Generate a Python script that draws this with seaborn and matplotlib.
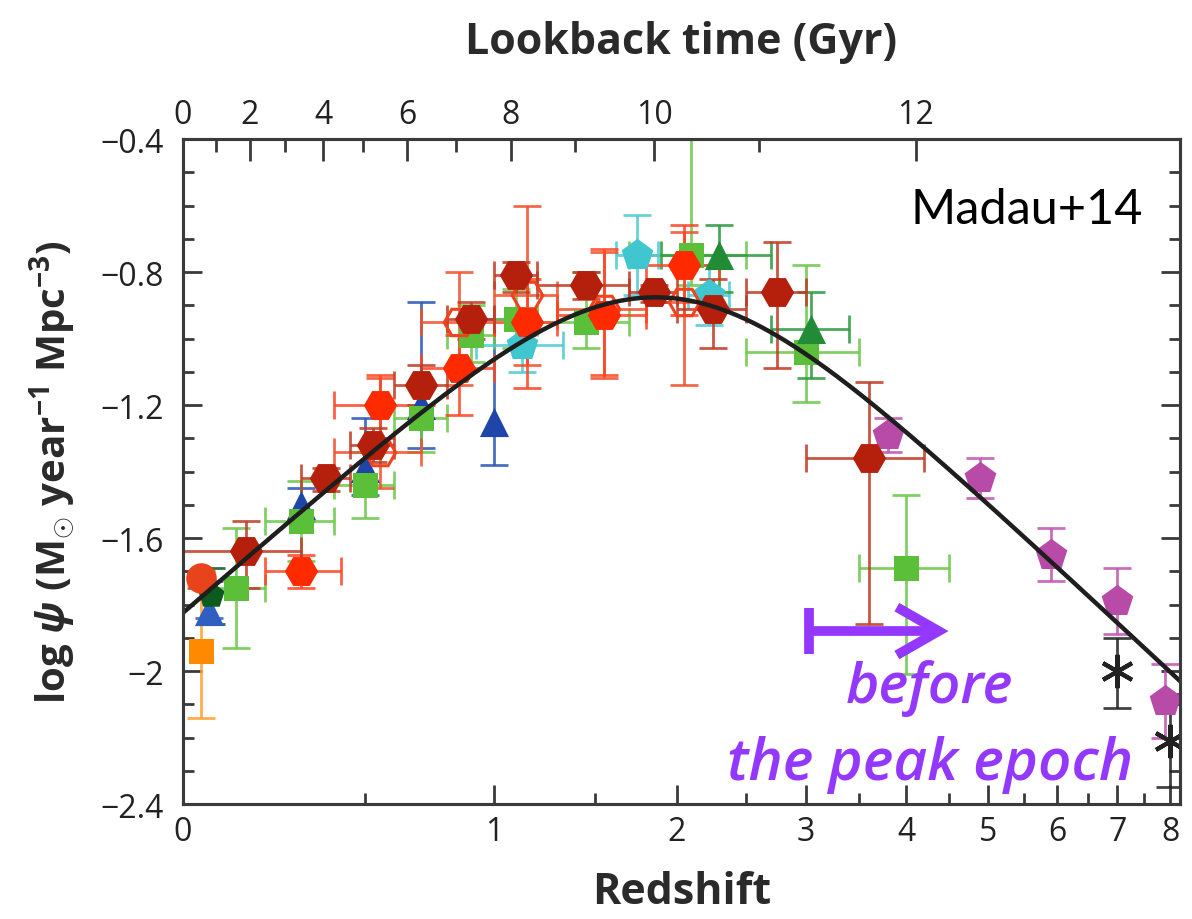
import numpy as np
import matplotlib
matplotlib.use("Agg")
import matplotlib.pyplot as plt
import seaborn as sns

# ---------------- axis tick data ----------------
z_ticks = [0, 1, 2, 3, 4, 5, 6, 7, 8]
z_minor = [0.5, 1.5, 2.5, 3.5, 4.5, 5.5, 6.5, 7.5]
lookback_ticks = [0, 2, 4, 6, 8, 10, 12]
lookback_minor = [1, 3, 5, 7, 9, 11]
y_ticks = [-0.4, -0.8, -1.2, -1.6, -2.0, -2.4]
y_tick_labels = ["\u22120.4", "\u22120.8", "\u22121.2", "\u22121.6", "\u22122", "\u22122.4"]

# cosmology for the lookback-time axis
H0 = 70.0
OMEGA_M = 0.3

# best-fit SFR density (Madau & Dickinson 2014)
fit_norm, fit_a, fit_zc, fit_b = 0.015, 2.7, 2.9, 5.6

# ---------------- data (z, z_lo, z_hi, log psi, +err, -err) ----------------
sanders_z = [0.04]; sanders_v = [-1.72]; sanders_up = [0.02]; sanders_dn = [0.03]
takeuchi_z = [0.04]; takeuchi_v = [-1.94]; takeuchi_up = [0.20]; takeuchi_dn = [0.20]
robotham_z = [0.065]; robotham_v = [-1.77]; robotham_up = [0.08]; robotham_dn = [0.09]
wyder_z = [0.06]; wyder_v = [-1.82]; wyder_up = [0.09]; wyder_dn = [0.02]

schim_z = [0.3, 0.5, 0.7, 1.0]
schim_v = [-1.50, -1.39, -1.20, -1.25]
schim_up = [0.05, 0.15, 0.31, 0.31]
schim_dn = [0.05, 0.08, 0.13, 0.13]

cucc_z = [0.125, 0.3, 0.5, 0.7, 0.9, 1.1, 1.45, 2.1, 3.0, 4.0]
cucc_lo = [0.05, 0.2, 0.4, 0.6, 0.8, 1.0, 1.2, 1.7, 2.5, 3.5]
cucc_hi = [0.2, 0.4, 0.6, 0.8, 1.0, 1.2, 1.7, 2.5, 3.5, 4.5]
cucc_v = [-1.75, -1.55, -1.44, -1.24, -0.99, -0.94, -0.95, -0.75, -1.04, -1.69]
cucc_up = [0.18, 0.12, 0.10, 0.10, 0.09, 0.09, 0.15, 0.49, 0.26, 0.22]
cucc_dn = [0.18, 0.12, 0.10, 0.10, 0.08, 0.09, 0.08, 0.09, 0.15, 0.32]

dahlen_z = [1.125, 1.75, 2.225]
dahlen_lo = [0.92, 1.62, 2.08]
dahlen_hi = [1.33, 1.88, 2.37]
dahlen_v = [-1.02, -0.75, -0.87]
dahlen_up = [0.08, 0.12, 0.09]
dahlen_dn = [0.08, 0.12, 0.09]

reddy_z = [2.3, 3.05]
reddy_lo = [1.9, 2.7]
reddy_hi = [2.7, 3.4]
reddy_v = [-0.75, -0.97]
reddy_up = [0.09, 0.11]
reddy_dn = [0.11, 0.15]

bouwens_z = [3.8, 4.9, 5.9, 7.0, 7.9]
bouwens_v = [-1.29, -1.42, -1.65, -1.79, -2.09]
bouwens_up = [0.05, 0.06, 0.08, 0.10, 0.11]
bouwens_dn = [0.05, 0.06, 0.08, 0.10, 0.11]

schenker_z = [7.0, 8.0]
schenker_v = [-2.00, -2.21]
schenker_up = [0.10, 0.14]
schenker_dn = [0.11, 0.14]

grupp_z = [0.15, 0.375, 0.525, 0.7, 0.9, 1.1, 1.45, 1.85, 2.25, 2.75, 3.6]
grupp_lo = [0.0, 0.3, 0.45, 0.6, 0.8, 1.0, 1.2, 1.7, 2.0, 2.5, 3.0]
grupp_hi = [0.3, 0.45, 0.6, 0.8, 1.0, 1.2, 1.7, 2.0, 2.5, 3.0, 4.2]
grupp_v = [-1.64, -1.42, -1.32, -1.14, -0.94, -0.81, -0.84, -0.86, -0.91, -0.86, -1.36]
grupp_up = [0.09, 0.03, 0.05, 0.06, 0.05, 0.04, 0.04, 0.02, 0.09, 0.15, 0.23]
grupp_dn = [0.11, 0.04, 0.05, 0.06, 0.06, 0.05, 0.04, 0.03, 0.12, 0.23, 0.50]

mag11_z = [0.55, 0.85, 1.15, 1.55, 2.05]
mag11_lo = [0.4, 0.7, 1.0, 1.3, 1.8]
mag11_hi = [0.7, 1.0, 1.3, 1.8, 2.3]
mag11_v = [-1.34, -0.95, -0.87, -0.91, -0.89]
mag11_up = [0.22, 0.15, 0.27, 0.17, 0.21]
mag11_dn = [0.11, 0.19, 0.21, 0.21, 0.25]

mag13_z = [0.3, 0.55, 0.85, 1.15, 1.55, 2.05]
mag13_lo = [0.2, 0.4, 0.7, 1.0, 1.3, 1.8]
mag13_hi = [0.42, 0.7, 1.0, 1.3, 1.8, 2.3]
mag13_v = [-1.70, -1.20, -1.09, -0.95, -0.93, -0.78]
mag13_up = [0.05, 0.09, 0.10, 0.13, 0.20, 0.12]
mag13_dn = [0.05, 0.10, 0.14, 0.20, 0.18, 0.15]

# ---------------- style ----------------
sns.set_theme(style="ticks")
plt.rcParams["font.family"] = ["Open Sans", "DejaVu Sans"]
plt.rcParams["mathtext.fontset"] = "custom"
plt.rcParams["mathtext.rm"] = "Open Sans:bold"
plt.rcParams["mathtext.it"] = "Open Sans:italic:bold"
plt.rcParams["mathtext.bf"] = "Open Sans:bold"

FRAME = "#3a3a3a"
PURPLE = "#9438ff"
LABEL_C = "#2a2a2a"

fig = plt.figure(figsize=(11.92, 9.2), dpi=100)
ax = fig.add_axes([183 / 1192, 115 / 920, 997 / 1192, 665 / 920])


def fwd(z):
    return np.log10(1.0 + np.asarray(z, dtype=float))


def inv(u):
    return 10.0 ** np.asarray(u, dtype=float) - 1.0


ax.set_xscale("function", functions=(fwd, inv))


def draw(z, v, up, dn, color, ecolor, marker, ms, zlo=None, zhi=None,
         open_marker=False, zo=3, mew=0):
    z = np.asarray(z, float)
    v = np.asarray(v, float)
    xerr = None
    if zlo is not None:
        xerr = [z - np.asarray(zlo, float), np.asarray(zhi, float) - z]
    ax.errorbar(z, v, yerr=[dn, up], xerr=xerr, fmt="none", ecolor=ecolor,
                elinewidth=2.0, capsize=10, capthick=2.0, alpha=0.85, zorder=2)
    if open_marker:
        ax.plot(z, v, linestyle="none", marker=marker, ms=ms, mfc="none",
                mec=color, mew=2.2, zorder=zo)
    elif mew > 0:
        ax.plot(z, v, linestyle="none", marker=marker, ms=ms, color=color,
                mew=mew, zorder=zo)
    else:
        sns.scatterplot(x=z, y=v, marker=marker, s=ms ** 2, color=color,
                        edgecolor=color, linewidth=0, ax=ax, zorder=zo,
                        legend=False)


draw(takeuchi_z, takeuchi_v, takeuchi_up, takeuchi_dn, "#ff8a00", "#ffa030", "s", 18, zo=3)
draw(wyder_z, wyder_v, wyder_up, wyder_dn, "#2f5fc0", "#2f5fc0", "^", 21, zo=3)
draw(robotham_z, robotham_v, robotham_up, robotham_dn, "#0b5a1e", "#0b5a1e", "p", 20, zo=3.1)
draw(sanders_z, sanders_v, sanders_up, sanders_dn, "#e8431a", "#b84a20", "o", 22, zo=3.2)
draw(schim_z, schim_v, schim_up, schim_dn, "#1f45a8", "#2a55b8", "^", 21, zo=3)
draw(cucc_z, cucc_v, cucc_up, cucc_dn, "#5cbf3a", "#6cc84a", "s", 18,
     zlo=cucc_lo, zhi=cucc_hi, zo=3.1)
draw(dahlen_z, dahlen_v, dahlen_up, dahlen_dn, "#3fc6cf", "#4ccbd3", "p", 24,
     zlo=dahlen_lo, zhi=dahlen_hi, zo=3.2)
draw(reddy_z, reddy_v, reddy_up, reddy_dn, "#228b35", "#2b9a3f", "^", 21,
     zlo=reddy_lo, zhi=reddy_hi, zo=3.3)
draw(bouwens_z, bouwens_v, bouwens_up, bouwens_dn, "#b84aa8", "#c055b0", "p", 24, zo=3.3)
draw(schenker_z, schenker_v, schenker_up, schenker_dn, "#222222", "#222222", (6, 2, 0), 24,
     zo=3.4, mew=3)
draw(mag11_z, mag11_v, mag11_up, mag11_dn, "#f0421c", "#f0502a", "H", 22,
     zlo=mag11_lo, zhi=mag11_hi, open_marker=True, zo=3.4)
draw(mag13_z, mag13_v, mag13_up, mag13_dn, "#ff2a00", "#ff4422", "H", 24,
     zlo=mag13_lo, zhi=mag13_hi, zo=3.5)
draw(grupp_z, grupp_v, grupp_up, grupp_dn, "#b5200d", "#bf3a24", "H", 24,
     zlo=grupp_lo, zhi=grupp_hi, zo=3.6)

# best-fit curve
z_fit = np.linspace(0.0, 8.3, 400)
psi_fit = fit_norm * (1 + z_fit) ** fit_a / (1 + ((1 + z_fit) / fit_zc) ** fit_b)
sns.lineplot(x=z_fit, y=np.log10(psi_fit), color="#1e1e1e", linewidth=3.2, ax=ax,
             zorder=5, legend=False)

# ---------------- axes ----------------
ax.set_xlim(0, 8.2)
ax.set_ylim(-2.4, -0.4)
ax.set_xticks(z_ticks)
ax.set_xticklabels([str(t) for t in z_ticks])
ax.set_xticks(z_minor, minor=True)
ax.set_yticks(y_ticks)
ax.set_yticklabels(y_tick_labels)
ax.set_yticks(np.arange(-2.4, -0.39, 0.1), minor=True)
ax.tick_params(axis="both", which="major", direction="in", length=14, width=2,
               color=FRAME, labelsize=23, labelcolor="#222222", pad=8)
ax.tick_params(axis="y", which="major", pad=14)
ax.tick_params(axis="both", which="minor", direction="in", length=8, width=2, color=FRAME)
ax.tick_params(axis="y", which="both", left=True, right=True)
ax.tick_params(axis="x", which="both", top=False, bottom=True)
for s in ax.spines.values():
    s.set_color(FRAME)
    s.set_linewidth(2.2)
ax.grid(False)

ax.set_xlabel("Redshift", fontsize=31, fontweight="bold", color=LABEL_C, labelpad=16)
ax.set_ylabel(r"log $\psi$ (M$_{\odot}$ year$^{-1}$ Mpc$^{-3}$)", fontsize=29,
              fontweight="bold", color=LABEL_C, labelpad=16)

# lookback time axis (top)
zz = np.linspace(0, 30, 30001)
integrand = 1.0 / ((1 + zz) * np.sqrt(OMEGA_M * (1 + zz) ** 3 + (1 - OMEGA_M)))
t_lb = (977.8 / H0) * np.concatenate(
    [[0.0], np.cumsum(0.5 * (integrand[1:] + integrand[:-1]) * np.diff(zz))])
z_of_t_major = np.interp(lookback_ticks, t_lb, zz)
z_of_t_minor = np.interp(lookback_minor, t_lb, zz)

ax2 = ax.twiny()
ax2.set_xscale("function", functions=(fwd, inv))
ax2.set_xlim(ax.get_xlim())
ax2.set_xticks(z_of_t_major)
ax2.set_xticklabels([str(t) for t in lookback_ticks])
ax2.set_xticks(z_of_t_minor, minor=True)
ax2.tick_params(axis="x", which="both", top=True, bottom=False, labeltop=True,
                labelbottom=False)
ax2.tick_params(axis="x", which="major", direction="in", length=16, width=2,
                color=FRAME, labelsize=23, labelcolor="#222222", pad=6)
ax2.tick_params(axis="x", which="minor", direction="in", length=9, width=2, color=FRAME)
for s in ax2.spines.values():
    s.set_color(FRAME)
    s.set_linewidth(2.2)
ax2.grid(False)
ax2.set_xlabel("Lookback time (Gyr)", fontsize=31, fontweight="bold", color=LABEL_C,
               labelpad=32)

# ---------------- annotations ----------------
ax.text(0.963, 0.895, "Madau+14", transform=ax.transAxes, ha="right", va="center",
        fontsize=35, color="black", family=["Lato", "DejaVu Sans"])

# "before the peak epoch" arrow
x0, x1, ya = 0.624, 0.758, 0.260
ax.plot([x0 + 0.004, x1], [ya, ya], transform=ax.transAxes, color=PURPLE, lw=7,
        solid_capstyle="butt", zorder=6)
ax.plot([x0 + 0.004, x0 + 0.004], [ya - 0.034, ya + 0.034], transform=ax.transAxes,
        color=PURPLE, lw=7, solid_capstyle="butt", zorder=6)
ax.plot([x1 - 0.042, x1, x1 - 0.042], [ya + 0.036, ya, ya - 0.036], transform=ax.transAxes,
        color=PURPLE, lw=7, solid_capstyle="butt", solid_joinstyle="miter", zorder=6)
ax.text(0.749, 0.175, "before", transform=ax.transAxes, ha="center", va="center",
        fontsize=41, color=PURPLE, style="italic", fontweight="semibold",
        family=["Open Sans", "DejaVu Sans"], zorder=6)
ax.text(0.749, 0.06, "the peak epoch", transform=ax.transAxes, ha="center", va="center",
        fontsize=42, color=PURPLE, style="italic", fontweight="semibold",
        family=["Open Sans", "DejaVu Sans"], zorder=6)

fig.savefig("out.png", dpi=100)
